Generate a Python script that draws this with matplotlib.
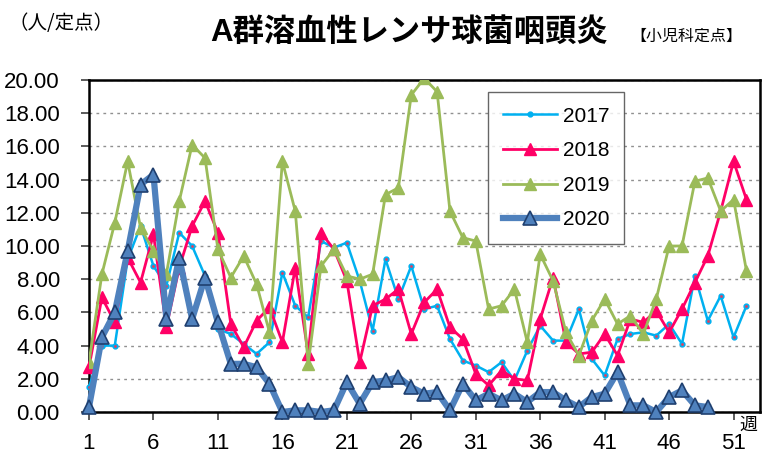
import matplotlib
matplotlib.use("Agg")
import matplotlib.pyplot as plt
import numpy as np

plt.rcParams['font.family'] = ['Liberation Sans', 'Noto Sans CJK JP', 'DejaVu Sans']

weeks_ticks = [1, 6, 11, 16, 21, 26, 31, 36, 41, 46, 51]
yticks = [0, 2, 4, 6, 8, 10, 12, 14, 16, 18, 20]

y2017 = [1.5, 4.0, 4.0, 9.2, 11.2, 8.8, 7.6, 10.8, 10.0, 8.2,
         5.0, 4.7, 4.1, 3.5, 4.2, 8.4, 6.4, 5.7, 10.3, 9.9,
         10.2, 7.9, 4.9, 9.2, 6.8, 8.8, 6.2, 6.4, 4.4, 3.1,
         2.8, 2.4, 3.0, 1.9, 3.7, 5.2, 4.3, 4.3, 6.2, 3.2,
         2.2, 4.4, 4.7, 4.8, 4.6, 5.3, 4.1, 8.2, 5.5, 7.0,
         4.5, 6.4]
y2018 = [2.7, 6.9, 5.4, 9.3, 7.8, 10.7, 5.1, 8.7, 11.2, 12.7,
         10.8, 5.3, 3.9, 5.5, 6.3, 4.2, 8.7, 3.5, 10.8, 9.8,
         7.9, 3.0, 6.4, 6.8, 7.4, 4.7, 6.6, 7.4, 5.1, 4.4,
         2.3, 1.6, 2.5, 2.0, 1.9, 5.6, 8.1, 4.2, 3.5, 3.6,
         4.7, 3.4, 5.6, 5.4, 6.1, 4.8, 6.2, 7.8, 9.4, 12.1,
         15.1, 12.8]
y2019 = [3.0, 8.3, 11.4, 15.1, 11.1, 9.7, 8.3, 12.7, 16.1, 15.3,
         9.8, 8.1, 9.4, 7.7, 4.8, 15.1, 12.1, 2.9, 8.8, 9.8,
         8.2, 8.0, 8.3, 13.1, 13.5, 19.1, 20.1, 19.3, 12.1, 10.5,
         10.3, 6.2, 6.4, 7.4, 4.2, 9.5, 7.9, 4.8, 3.4, 5.5,
         6.8, 5.3, 5.8, 4.7, 6.8, 10.0, 10.0, 13.9, 14.1, 12.1,
         12.8, 8.5]
y2020 = [0.3, 4.5, 6.0, 9.7, 13.7, 14.3, 5.6, 9.3, 5.6, 8.1,
         5.4, 2.9, 2.9, 2.7, 1.7, 0.0, 0.1, 0.1, 0.0, 0.1,
         1.8, 0.5, 1.8, 1.9, 2.1, 1.5, 1.1, 1.2, 0.1, 1.7,
         0.7, 1.1, 0.7, 1.1, 0.6, 1.2, 1.2, 0.7, 0.3, 0.9,
         1.1, 2.4, 0.4, 0.4, 0.0, 0.9, 1.3, 0.4, 0.3]

fig = plt.figure(figsize=(7.67, 4.53), dpi=100)
ax = fig.add_axes([89/767, 1-412/453, (760-89)/767, (412-80)/453])

w17 = np.arange(1, len(y2017)+1)
w18 = np.arange(1, len(y2018)+1)
w19 = np.arange(1, len(y2019)+1)
w20 = np.arange(1, len(y2020)+1)

ax.plot(w17, y2017, color='#00B0F0', lw=1.8, marker='o', ms=3.5,
        mfc='#00B0F0', mec='#00B0F0', label='2017', zorder=3, clip_on=False)
ax.plot(w17, y2017, ls='none', marker='.', ms=2, color='#E04060', zorder=3.1, clip_on=False)
ax.plot(w18, y2018, color='#FF0066', lw=2.0, marker='^', ms=9,
        mfc='#FF0066', mec='#FF0066', label='2018', zorder=4, clip_on=False)
ax.plot(w19, y2019, color='#9BBB59', lw=2.0, marker='^', ms=9,
        mfc='#9BBB59', mec='#9BBB59', label='2019', zorder=5, clip_on=True)
ax.plot(w20, y2020, color='#4F81BD', lw=4.5, marker='^', ms=10,
        mfc='#4F81BD', mec='#1F3F6F', mew=1.2, label='2020', zorder=6, clip_on=False)

ax.set_xlim(1, 53.05)
ax.set_ylim(0, 20)
ax.set_xticks(weeks_ticks)
ax.set_xticklabels([str(w) for w in weeks_ticks], fontsize=16)
ax.set_yticks(yticks)
ax.set_yticklabels([f"{v:.2f}" for v in yticks], fontsize=16)
ax.tick_params(axis='both', direction='out', length=6, width=1.2, color='#404040')
ax.tick_params(axis='x', pad=9)
ax.tick_params(axis='y', pad=15)
for s in ax.spines.values():
    s.set_linewidth(1.8)
    s.set_color('black')
ax.yaxis.grid(True, ls=(0, (2, 3)), color='#909090', lw=1.0)
ax.set_axisbelow(True)

leg = ax.legend(loc='upper left', bbox_to_anchor=((488-89)/671, (412-92)/332),
                frameon=True, fancybox=False, edgecolor='#404040', fontsize=15,
                handlelength=2.6, handletextpad=0.3, labelspacing=0.75,
                borderpad=0.7, borderaxespad=0)
leg.get_frame().set_linewidth(1.0)

fig.text(748/767, 1-425/453, '週', fontsize=13, ha='center', va='center')
fig.text(8/767, 1-24/453, '（人/定点）', fontsize=14, ha='left', va='center',
         family=['Noto Sans CJK JP'])
fig.text(409/767, 1-33/453, 'A群溶血性レンサ球菌咽頭炎', fontsize=22.5, fontweight='bold',
         ha='center', va='center', family=['Liberation Sans', 'Noto Sans CJK JP'])
fig.text(686/767, 1-36/453, '【小児科定点】', fontsize=11.5, ha='center', va='center',
         family=['Noto Sans CJK JP'])

fig.savefig('out.png', dpi=100)
